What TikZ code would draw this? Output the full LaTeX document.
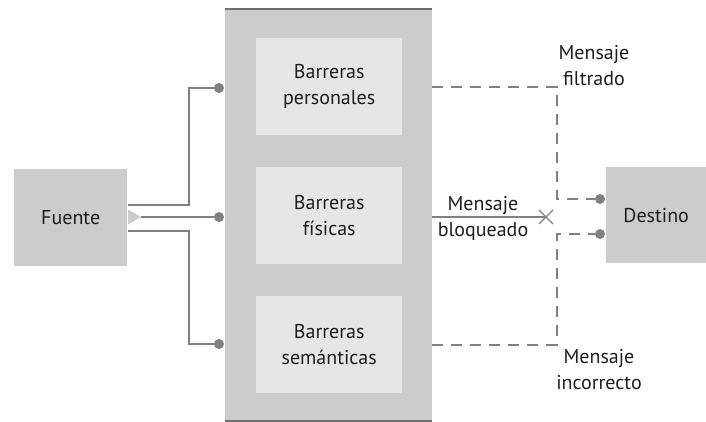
\documentclass[tikz,border=0pt]{standalone}
\usepackage{fontspec}
\setmainfont{PT Sans}
\definecolor{gris}{HTML}{CCCCCC}
\definecolor{grisclaro}{HTML}{E6E6E6}
\definecolor{linea}{HTML}{808080}
\definecolor{borde}{HTML}{6E6E6E}
\definecolor{texto}{HTML}{1E1E1E}

\begin{document}
\begin{tikzpicture}[x=1pt,y=-1pt,
  every node/.style={text=texto, font=\fontsize{20}{26}\selectfont, align=center},
  caja/.style={fill=gris, inner sep=0pt, anchor=north west},
  barrera/.style={caja, fill=grisclaro, minimum width=146pt, minimum height=97pt},
  enlace/.style={draw=linea, line width=2.2pt},
  filtro/.style={enlace, dash pattern=on 11pt off 8pt},
  punto/.style={circle, fill=linea, inner sep=0pt, minimum size=10pt}]
  \useasboundingbox (0,0) rectangle (706,422);

  \node[caja, minimum width=207pt, minimum height=412pt] (panel) at (225,9) {};
  \draw[borde, line width=2pt] (panel.north west) -- (panel.north east);
  \draw[borde, line width=2pt] (panel.south west) -- (panel.south east);

  \node[barrera] (bP) at (256,38) {Barreras\\personales};
  \node[barrera] (bF) at (256,167) {Barreras\\físicas};
  \node[barrera] (bS) at (256,296) {Barreras\\semánticas};

  \node[caja, minimum width=113pt, minimum height=97pt] (fuente) at (14,169) {Fuente};
  \node[caja, minimum width=100pt, minimum height=96pt] (destino) at (606,167) {Destino};

  % salidas de la fuente
  \node[punto] (pP) at (219,88) {};
  \node[punto] (pF) at (219,217) {};
  \node[punto] (pS) at (219,344) {};
  \coordinate (sP) at (128,205);
  \coordinate (sF) at (128,217);
  \coordinate (sS) at (128,231);
  \draw[enlace] (sP) -- ++(61,0) |- (pP);
  \draw[enlace] (sS) -- ++(61,0) |- (pS);
  \fill[gris] (sF) ++(0,-7.5) -- ++(13,7.5) -- ++(-13,7.5) -- cycle;
  \draw[enlace] (sF) ++(13,0) -- (pF);

  % mensajes hacia el destino
  \node[punto] (dF) at (600,199) {};
  \node[punto] (dI) at (600,234) {};
  \coordinate (cD) at (557,0);
  \draw[filtro] (bP.east -| panel.east) -| (cD |- dF) -- (dF.west);
  \draw[filtro] (bS.east -| panel.east) -| (cD |- dI) -- (dI.west);

  \coordinate (X) at (546,217);
  \draw[linea, line width=1.1pt] (X -| panel.east) -- (X);
  \draw[linea, line width=1.1pt] (X) ++(-7,-7) -- ++(14,14) ++(0,-14) -- ++(-14,14);

  \node (lF) at (594,66) {Mensaje\\filtrado};
  \node (lB) at (483,218) {Mensaje\\bloqueado};
  \node (lI) at (599,370) {Mensaje\\incorrecto};
\end{tikzpicture}
\end{document}
